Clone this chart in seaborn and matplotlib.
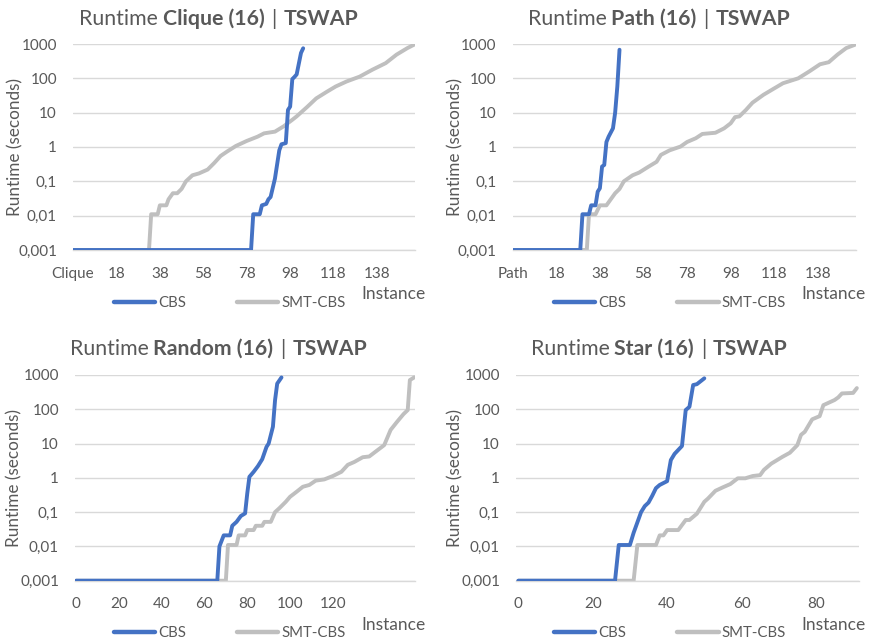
import numpy as np
import pandas as pd
import matplotlib
matplotlib.use("Agg")
import matplotlib.pyplot as plt
from matplotlib.ticker import NullLocator
import seaborn as sns

sns.set_theme(style="white")
plt.rcParams["font.family"] = ["Lato", "DejaVu Sans"]

# ---------------- data (instance index, runtime in seconds) ----------------
clique_cbs_x = [0, 82, 83, 86, 87, 89, 90, 91, 93, 95, 96, 98, 99, 100, 101, 102, 103, 105, 106]
clique_cbs_y = [0.001, 0.001, 0.011, 0.011, 0.02, 0.022, 0.03, 0.035, 0.12, 0.8, 1.2, 1.3, 12, 15, 95, 110, 130, 550, 750]
clique_smt_x = [0, 35, 36, 39, 40, 43, 44, 46, 48, 50, 52, 55, 58, 62, 65, 68, 71, 75, 80, 85, 88, 93,
                97, 101, 103, 108, 112, 117, 121, 126, 132, 138, 144, 149, 154, 157]
clique_smt_y = [0.001, 0.001, 0.011, 0.011, 0.02, 0.02, 0.03, 0.045, 0.045, 0.06, 0.1, 0.15, 0.17, 0.22,
                0.34, 0.55, 0.74, 1.07, 1.5, 2.0, 2.5, 2.8, 4, 6.2, 7.8, 15, 26, 41, 58, 81, 112, 180,
                277, 490, 760, 950]

path_cbs_x = [0, 31, 32, 35, 36, 38, 39, 40, 41, 42, 43, 44, 46, 47, 48, 49]
path_cbs_y = [0.001, 0.001, 0.011, 0.011, 0.02, 0.02, 0.05, 0.063, 0.27, 0.3, 1.4, 2, 3.5, 10, 58, 680]
path_smt_x = [0, 34, 35, 38, 40, 43, 45, 47, 49, 51, 55, 58, 62, 66, 68, 72, 77, 80, 84, 87, 93, 97,
              100, 102, 104, 107, 110, 115, 120, 124, 131, 136, 141, 145, 149, 153, 157]
path_smt_y = [0.001, 0.001, 0.011, 0.011, 0.02, 0.02, 0.03, 0.045, 0.06, 0.1, 0.15, 0.18, 0.26, 0.37,
              0.59, 0.8, 1.03, 1.4, 1.8, 2.4, 2.6, 3.5, 4.9, 7.4, 7.8, 12, 19.5, 33, 51, 72, 100, 158,
              257, 295, 490, 760, 950]

random_cbs_x = [0, 66, 67, 69, 72, 73, 75, 77, 79, 80, 81, 83, 85, 87, 89, 90, 92, 93, 94, 96]
random_cbs_y = [0.001, 0.001, 0.01, 0.021, 0.021, 0.04, 0.052, 0.077, 0.092, 0.35, 1.07, 1.5, 2.2,
                3.5, 8, 10, 31, 186, 560, 850]
random_smt_x = [0, 70, 71, 75, 76, 79, 80, 83, 84, 87, 88, 91, 93, 95, 98, 100, 103, 106, 109, 112,
                116, 120, 124, 127, 130, 134, 137, 141, 144, 147, 150, 153, 155, 156, 158]
random_smt_y = [0.001, 0.001, 0.011, 0.011, 0.021, 0.021, 0.03, 0.03, 0.04, 0.04, 0.052, 0.052, 0.1,
                0.13, 0.2, 0.28, 0.39, 0.55, 0.62, 0.83, 0.9, 1.13, 1.5, 2.4, 2.9, 4, 4.2, 6.5, 9,
                25, 43, 72, 95, 710, 850]

star_cbs_x = [0, 26, 27, 30, 31, 32, 33, 34, 35, 36, 37, 38, 40, 41, 42, 44, 45, 46, 47, 48, 50]
star_cbs_y = [0.001, 0.001, 0.011, 0.011, 0.025, 0.05, 0.1, 0.15, 0.19, 0.3, 0.5, 0.62, 0.8, 3.3, 5,
              8.5, 95, 118, 510, 540, 800]
star_smt_x = [0, 31, 32, 37, 38, 39, 40, 43, 45, 46, 48, 50, 51, 53, 55, 57, 59, 61, 63, 65, 66, 68,
              71, 73, 75, 76, 77, 79, 81, 82, 85, 86, 87, 90, 91]
star_smt_y = [0.001, 0.001, 0.011, 0.011, 0.021, 0.021, 0.03, 0.03, 0.059, 0.059, 0.09, 0.2, 0.25,
              0.42, 0.53, 0.66, 0.97, 0.97, 1.13, 1.2, 1.7, 2.6, 4.1, 5.4, 9, 18, 22, 51, 63, 132,
              186, 222, 290, 300, 415]

series_names = ["CBS", "SMT-CBS"]
graph_names = ["Clique", "Path", "Random", "Star"]
clique_ticks = [0, 20, 40, 60, 80, 100, 120, 140]
clique_labels = ["Clique", "18", "38", "58", "78", "98", "118", "138"]
path_ticks = [0, 20, 40, 60, 80, 100, 120, 140]
path_labels = ["Path", "18", "38", "58", "78", "98", "118", "138"]
random_ticks = [0, 20, 40, 60, 80, 100, 120]
random_labels = ["0", "20", "40", "60", "80", "100", "120"]
star_ticks = [0, 20, 40, 60, 80]
star_labels = ["0", "20", "40", "60", "80"]
y_ticks = [0.001, 0.01, 0.1, 1, 10, 100, 1000]
y_labels = ["0,001", "0,01", "0,1", "1", "10", "100", "1000"]

# ---------------- style ----------------
W, H = 873, 641
TXT = "#595959"
GRID = "#D9D9D9"
COLORS = {"CBS": "#4472C4", "SMT-CBS": "#BFBFBF"}

fig = plt.figure(figsize=(W / 100, H / 100), dpi=100)
fig.patch.set_facecolor("white")

panels = [
    dict(name="Clique", box=(73, 44, 415, 250), xlim=(0, 157.5), ticks=clique_ticks, labels=clique_labels,
         tickmax=150, cbs=(clique_cbs_x, clique_cbs_y), smt=(clique_smt_x, clique_smt_y),
         title_cx=219, title_y=25, ylab=(15, 147), legend=(229.5, 303), inst=(426, 294)),
    dict(name="Path", box=(512.7, 44, 856, 250), xlim=(0, 157.5), ticks=path_ticks, labels=path_labels,
         tickmax=150, cbs=(path_cbs_x, path_cbs_y), smt=(path_smt_x, path_smt_y),
         title_cx=659.3, title_y=25, ylab=(455, 147), legend=(670, 303), inst=(866, 294)),
    dict(name="Random", box=(75, 375, 415, 580.7), xlim=(-0.5, 158.4), ticks=random_ticks,
         labels=random_labels, tickmax=150, cbs=(random_cbs_x, random_cbs_y),
         smt=(random_smt_x, random_smt_y), title_cx=218.5, title_y=355, ylab=(14, 478),
         legend=(229.5, 633), inst=(426, 625)),
    dict(name="Star", box=(516, 375, 858.7, 580.7), xlim=(-0.62, 91.5), ticks=star_ticks,
         labels=star_labels, tickmax=90, cbs=(star_cbs_x, star_cbs_y), smt=(star_smt_x, star_smt_y),
         title_cx=659.3, title_y=355, ylab=(455, 478), legend=(670, 633), inst=(866, 625)),
]

renderer = fig.canvas.get_renderer()


def rich_title(pieces, cx, ybase, size=15.3):
    texts, widths = [], []
    for s, w, gap in pieces:
        t = fig.text(0, 0, s, fontsize=size, fontweight=w, color=TXT, va="baseline", ha="left")
        bb = t.get_window_extent(renderer)
        texts.append((t, gap))
        widths.append(bb.width)
    total = sum(widths) + sum(g for _, g in texts[1:])
    x = cx - total / 2
    for i, ((t, gap), w) in enumerate(zip(texts, widths)):
        if i > 0:
            x += gap
        t.set_position((x / W, 1 - ybase / H))
        x += w


for p in panels:
    l, t, r, b = p["box"]
    ax = fig.add_axes([l / W, 1 - b / H, (r - l) / W, (b - t) / H])
    for name, (xs, ys) in zip(series_names, [p["cbs"], p["smt"]]):
        df = pd.DataFrame({"instance": xs, "runtime": ys})
        sns.lineplot(data=df, x="instance", y="runtime", ax=ax, color=COLORS[name], linewidth=2.8,
                     label=name, sort=False, estimator=None, legend=False,
                     solid_capstyle="round", solid_joinstyle="round", zorder=3 if name == "CBS" else 2)
    ax.set_yscale("log")
    ax.set_ylim(0.001, 1000)
    ax.set_xlim(*p["xlim"])
    ax.set_yticks(y_ticks)
    ax.set_yticklabels(y_labels)
    ax.yaxis.set_minor_locator(NullLocator())
    ticks10 = list(range(0, p["tickmax"] + 1, 10))
    lab_map = dict(zip(p["ticks"], p["labels"]))
    ax.set_xticks(ticks10)
    ax.set_xticklabels([lab_map.get(v, "") for v in ticks10])
    ax.xaxis.set_minor_locator(NullLocator())
    ax.set_xlabel("")
    ax.set_ylabel("")
    ax.yaxis.grid(True, color=GRID, linewidth=1.0)
    ax.xaxis.grid(False)
    for s in ["top", "left", "right"]:
        ax.spines[s].set_visible(False)
    ax.spines["bottom"].set_color(GRID)
    ax.spines["bottom"].set_linewidth(1.0)
    ax.tick_params(axis="y", length=0, pad=11.5, labelsize=11, labelcolor=TXT)
    ax.tick_params(axis="x", direction="in", length=4, width=1, color=GRID, pad=12,
                   labelsize=11, labelcolor=TXT)
    ax.set_facecolor("white")

    h, lb = ax.get_legend_handles_labels()
    leg = ax.legend(h, lb, ncol=2, loc="center", frameon=False,
                    bbox_to_anchor=(p["legend"][0] / W, 1 - p["legend"][1] / H),
                    bbox_transform=fig.transFigure, handlelength=2.75, handletextpad=0.2,
                    columnspacing=3.4, fontsize=10.8, labelcolor=TXT)
    for ln in leg.get_lines():
        ln.set_linewidth(3.2)

    fig.text(p["ylab"][0] / W, 1 - p["ylab"][1] / H, "Runtime (seconds)", rotation=90,
             ha="center", va="center", fontsize=12.3, color=TXT)
    fig.text(p["inst"][0] / W, 1 - p["inst"][1] / H, "Instance", ha="right", va="center",
             fontsize=12.5, color=TXT)

    rich_title([("Runtime", "normal", 0), (p["name"] + " (16)", "bold", 4.5), ("|", "normal", 7),
                ("TSWAP", "bold", 7)], p["title_cx"], p["title_y"])

fig.savefig("out.png", dpi=100, facecolor="white")
